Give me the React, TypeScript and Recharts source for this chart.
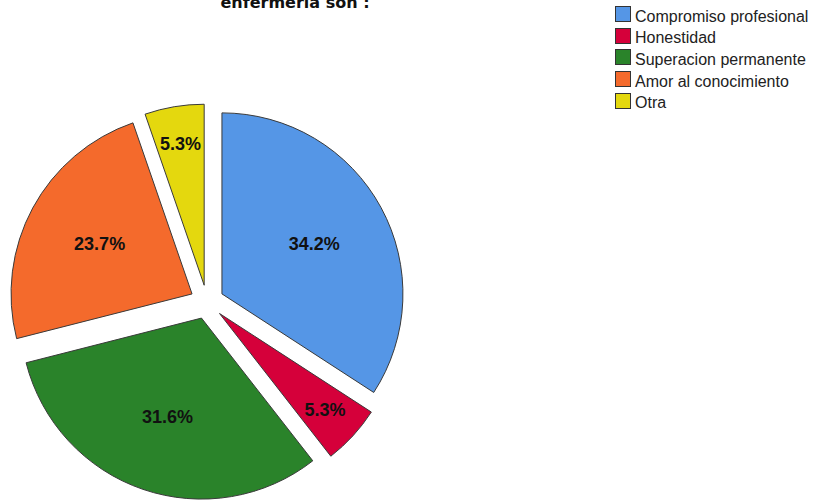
import React from "react";
import { PieChart, Pie, Cell } from "recharts";

const categories = [
  "Compromiso profesional",
  "Honestidad",
  "Superacion permanente",
  "Amor al conocimiento",
  "Otra",
];
const percentages = [34.2, 5.3, 31.6, 23.7, 5.3];
const colors = ["#5596E6", "#D5003A", "#2A832A", "#F46A2C", "#E4D80E"];
const titleText = "enfermeria son :";

const WIDTH = 820;
const HEIGHT = 501;
const CX = 207;
const CY = 302;
const RADIUS = 181;
const EXPLODE = 17;
const RADIAN = Math.PI / 180;

const data = categories.map((name, i) => ({ name, value: percentages[i] }));
const total = percentages.reduce((a, b) => a + b, 0);

// mid angle of each slice, clockwise from 12 o'clock
const midAngles: number[] = [];
let acc = 0;
percentages.forEach((v) => {
  midAngles.push(((acc + v / 2) / total) * 360);
  acc += v;
});

// one Pie per slice so each slice can be pushed out along its own mid angle
const ExplodedSlice = (k: number) => {
  const a = midAngles[k] * RADIAN;
  const cx = CX + EXPLODE * Math.sin(a);
  const cy = CY - EXPLODE * Math.cos(a);

  const renderLabel = (props: any) => {
    if (props.index !== k) return null;
    const r = props.outerRadius * (percentages[k] < 10 ? 0.79 : 0.58);
    const x = props.cx + r * Math.cos(-props.midAngle * RADIAN);
    const y = props.cy + r * Math.sin(-props.midAngle * RADIAN);
    return (
      <text
        x={x}
        y={y}
        textAnchor="middle"
        dominantBaseline="central"
        fill="#111"
        fontSize={18}
        fontWeight="bold"
        fontFamily="'Liberation Sans', Arial, sans-serif"
      >
        {percentages[k].toFixed(1)}%
      </text>
    );
  };

  return (
    <Pie
      key={k}
      data={data}
      dataKey="value"
      nameKey="name"
      cx={cx}
      cy={cy}
      innerRadius={0}
      outerRadius={RADIUS}
      startAngle={90}
      endAngle={-270}
      isAnimationActive={false}
      label={renderLabel}
      labelLine={false}
    >
      {data.map((d, i) => (
        <Cell
          key={d.name}
          fill={i === k ? colors[i] : "transparent"}
          stroke={i === k ? "#3a3a3a" : "none"}
          strokeWidth={1}
        />
      ))}
    </Pie>
  );
};

export default function App() {
  return (
    <div
      style={{
        position: "absolute",
        left: 0,
        top: 0,
        width: WIDTH,
        height: HEIGHT,
        background: "#fff",
        overflow: "hidden",
      }}
    >
      <div
        style={{
          position: "absolute",
          left: 195,
          width: 200,
          top: -7,
          textAlign: "center",
          fontFamily: "'DejaVu Sans', sans-serif",
          fontWeight: "bold",
          fontSize: 16,
          lineHeight: "20px",
          color: "#111",
        }}
      >
        {titleText}
      </div>
      <PieChart width={WIDTH} height={HEIGHT} margin={{ top: 0, right: 0, bottom: 0, left: 0 }}>
        {percentages.map((_, k) => ExplodedSlice(k))}
      </PieChart>
      <div
        style={{
          position: "absolute",
          left: 615,
          top: 6,
          fontFamily: "'Liberation Sans', Arial, sans-serif",
          fontSize: 16,
          color: "#222",
        }}
      >
        {categories.map((c, i) => (
          <div key={c} style={{ display: "flex", alignItems: "center", height: 21.6 }}>
            <span
              style={{
                display: "inline-block",
                width: 14,
                height: 14,
                background: colors[i],
                border: "1px solid #333",
                marginRight: 4,
                marginTop: -5,
              }}
            />
            <span style={{ lineHeight: "16px", marginTop: 0 }}>{c}</span>
          </div>
        ))}
      </div>
    </div>
  );
}
